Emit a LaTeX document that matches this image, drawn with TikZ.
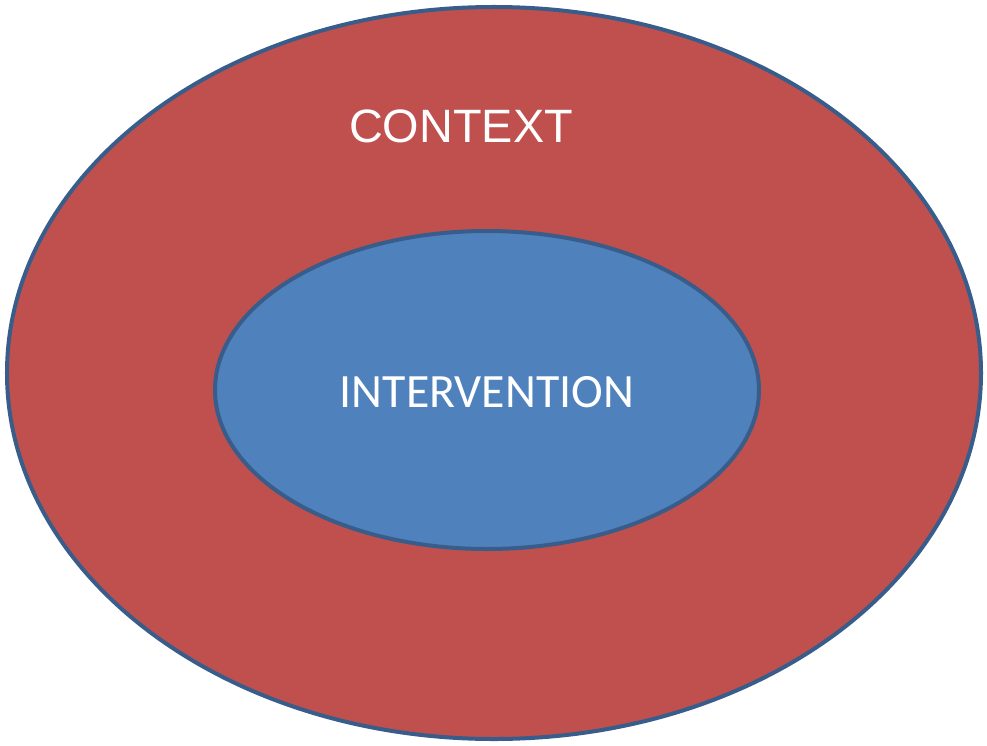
\documentclass[tikz,border=0pt]{standalone}
\usepackage{fontspec}
\usetikzlibrary{shapes.geometric}
\newfontfamily\contextfont{Liberation Sans}
\newfontfamily\interfont{Carlito}
\definecolor{ContextFill}{HTML}{C0504D}
\definecolor{InterFill}{HTML}{4F81BD}
\definecolor{Rim}{HTML}{385D8A}

\begin{document}
\begin{tikzpicture}[
    x=1bp, y=-1bp,
    blob/.style={draw=Rim, line width=4bp, ellipse, inner sep=0pt},
    contextblob/.style={blob, fill=ContextFill, minimum width=974bp, minimum height=732bp},
    interblob/.style={blob, fill=InterFill, minimum width=544bp, minimum height=318bp},
    caption/.style={text=white, inner sep=0pt}
  ]
  \useasboundingbox (0,0) rectangle (987,746);
  \node[contextblob] (context) at (494,373) {};
  \node[interblob] (intervention) at (487,390) {};
  \node[caption, font={\contextfont\fontsize{47}{50}\selectfont}] (contextlabel) at (461,126) {CONTEXT};
  \node[caption, font={\interfont\fontsize{48}{50}\selectfont}] (interlabel) at (487,392) {INTERVENTION};
\end{tikzpicture}
\end{document}
